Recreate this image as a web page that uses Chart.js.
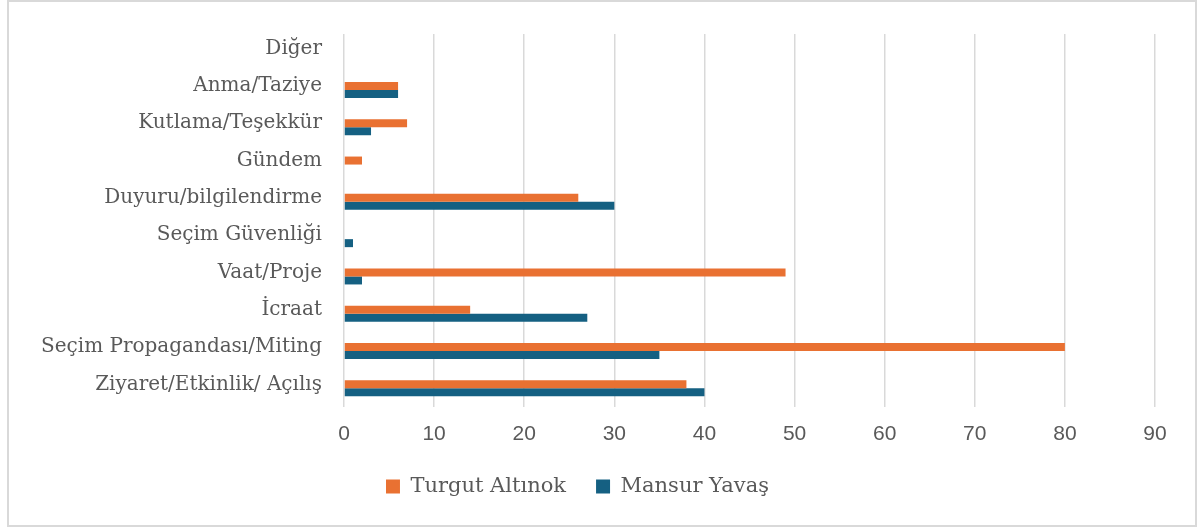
<!DOCTYPE html>
<html>
<head>
<meta charset="utf-8">
<script src="https://cdn.jsdelivr.net/npm/chart.js@4/dist/chart.umd.min.js"></script>
<style>
  html, body { margin: 0; padding: 0; background: #ffffff; }
  #wrap { position: relative; width: 1197px; height: 527px; }
  #frame { position: absolute; left: 7px; top: 0px; width: 1186px; height: 523px; border: 2px solid #d9d9d9; pointer-events: none; }
  canvas { position: absolute; left: 0; top: 0; }
</style>
</head>
<body>
<div id="wrap">
  <canvas id="c" width="1197" height="527"></canvas>
  <div id="frame"></div>
</div>
<script>
// Post categories, top to bottom
const categories = [
  'Diğer',
  'Anma/Taziye',
  'Kutlama/Teşekkür',
  'Gündem',
  'Duyuru/bilgilendirme',
  'Seçim Güvenliği',
  'Vaat/Proje',
  'İcraat',
  'Seçim Propagandası/Miting',
  'Ziyaret/Etkinlik/ Açılış'
];

// Number of posts per category
const turgutAltinok = [0, 6, 7, 2, 26, 0, 49, 14, 80, 38];
const mansurYavas   = [0, 6, 3, 0, 30, 1, 2, 27, 35, 40];

const xTicks = [0, 10, 20, 30, 40, 50, 60, 70, 80, 90];

const ORANGE = '#E97132';
const BLUE = '#156082';
const TEXT = '#595959';
const GRID = '#d9d9d9';
const SERIF = "'DejaVu Serif', 'Liberation Serif', serif";

new Chart(document.getElementById('c'), {
  type: 'bar',
  data: {
    labels: categories,
    datasets: [
      { label: 'Turgut Altınok', data: turgutAltinok, backgroundColor: ORANGE, barThickness: 8, inflateAmount: 0 },
      { label: 'Mansur Yavaş', data: mansurYavas, backgroundColor: BLUE, barThickness: 8, inflateAmount: 0 }
    ]
  },
  options: {
    indexAxis: 'y',
    responsive: false,
    animation: false,
    layout: { padding: { top: 33, right: 42, bottom: 20, left: 0 } },
    plugins: {
      tooltip: { enabled: false },
      legend: {
        position: 'bottom',
        labels: {
          color: TEXT,
          font: { family: SERIF, size: 21 },
          boxWidth: 14,
          boxHeight: 14,
          padding: 30
        }
      }
    },
    scales: {
      x: {
        min: 0,
        max: 90,
        afterBuildTicks: (axis) => { axis.ticks = xTicks.map(v => ({ value: v })); },
        afterFit: (scale) => { scale.height = 39; },
        grid: { color: GRID, lineWidth: 1.5, drawTicks: false },
        border: { display: false },
        ticks: {
          color: TEXT,
          padding: 15,
          font: { family: "'Liberation Sans Narrow', 'Liberation Sans', sans-serif", size: 21 }
        }
      },
      y: {
        afterFit: (scale) => { scale.width = 344; },
        grid: { display: false, drawTicks: false },
        border: { display: false },
        ticks: {
          color: TEXT,
          padding: 22,
          labelOffset: -4,
          font: { family: SERIF, size: 20 }
        }
      }
    }
  }
});
</script>
</body>
</html>
